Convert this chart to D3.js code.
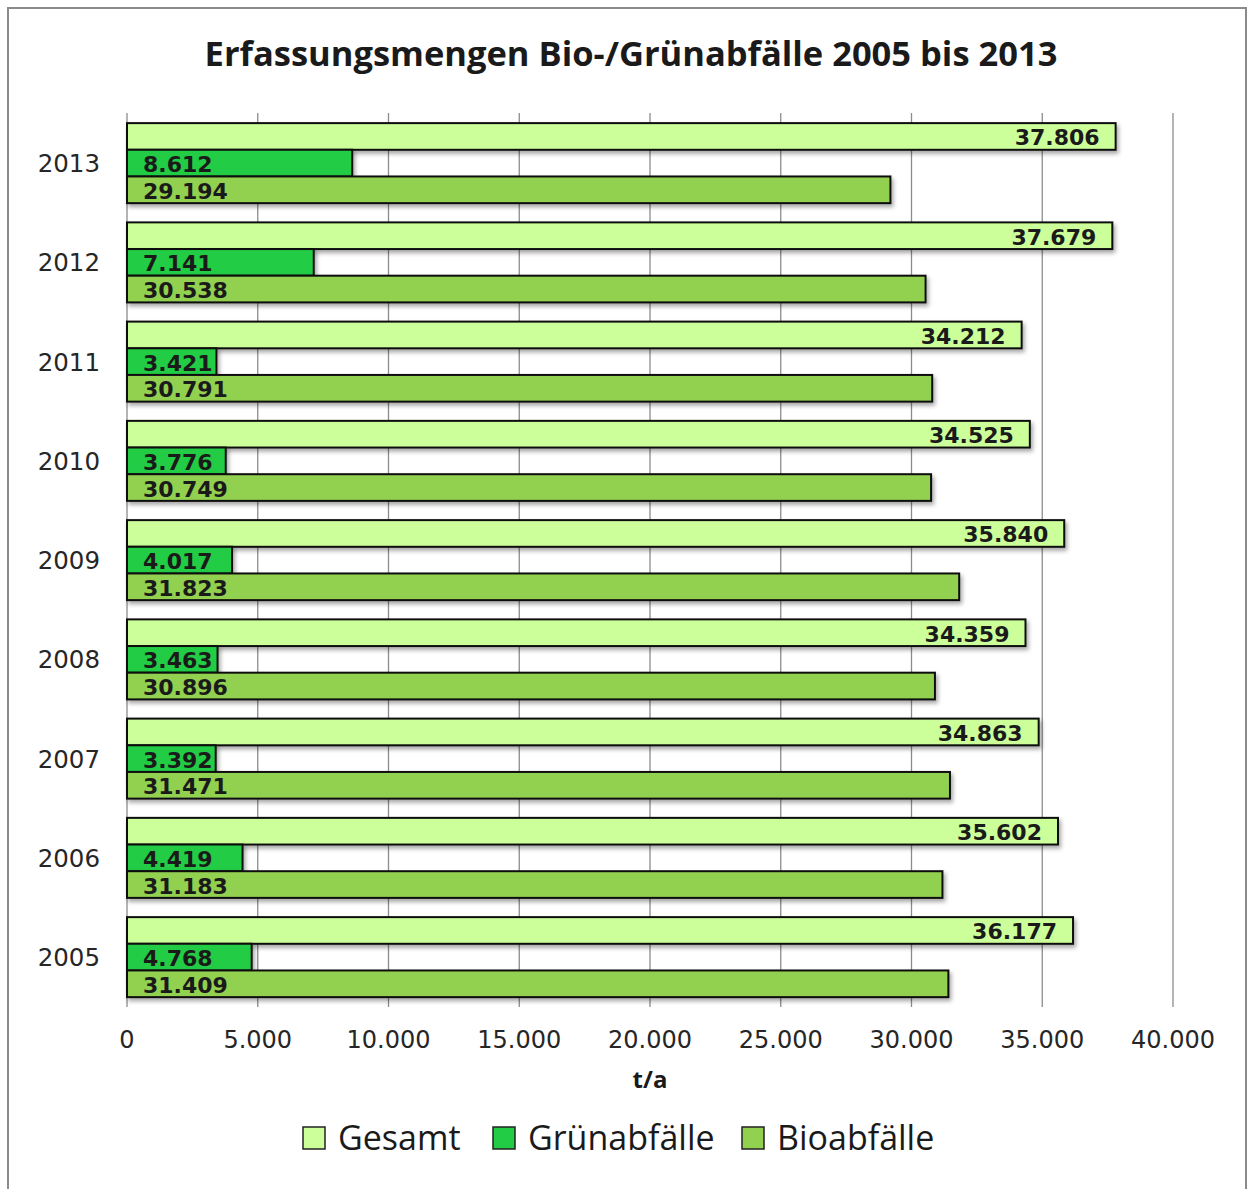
<!DOCTYPE html>
<html>
<head>
  <meta charset="utf-8">
  <script src="https://cdn.jsdelivr.net/npm/d3@7"></script>
  <style type="text/css">
    body { margin: 0; background: #fff; }
    svg text { fill: #1a1a1a; }
  </style>
</head>
<body>
  <div id="chartContainer"></div>

  <script type="text/javascript">
    // data
    var years = ['2013', '2012', '2011', '2010', '2009', '2008', '2007', '2006', '2005'];
    var seriesNames = ['Gesamt', 'Grünabfälle', 'Bioabfälle'];
    var gesamt = [37806, 37679, 34212, 34525, 35840, 34359, 34863, 35602, 36177];
    var gruen  = [8612, 7141, 3421, 3776, 4017, 3463, 3392, 4419, 4768];
    var bio    = [29194, 30538, 30791, 30749, 31823, 30896, 31471, 31183, 31409];
    var xTicks = [0, 5000, 10000, 15000, 20000, 25000, 30000, 35000, 40000];
    var colors = ['#ccff99', '#22cc44', '#92d050'];

    var width = 1248, height = 1189;
    var fmt = function(v) { return d3.format(',')(v).replace(/,/g, '.'); };

    var svg = d3.select('#chartContainer').append('svg')
      .attr('width', width)
      .attr('height', height);

    var defs = svg.append('defs');
    defs.append('filter').attr('id', 'shadow')
      .attr('x', '-5%').attr('y', '-30%').attr('width', '115%').attr('height', '180%')
      .append('feDropShadow')
      .attr('dx', 2).attr('dy', 3).attr('stdDeviation', 2)
      .attr('flood-color', '#000').attr('flood-opacity', 0.35);

    // outer frame
    svg.append('rect')
      .attr('x', 8).attr('y', 8)
      .attr('width', 1238).attr('height', 1200)
      .attr('fill', 'none')
      .attr('stroke', '#8a8a8a')
      .attr('stroke-width', 2);

    svg.append('text')
      .attr('x', 631).attr('y', 66)
      .attr('text-anchor', 'middle')
      .style('font-family', 'Open Sans')
      .style('font-weight', 'bold')
      .style('font-size', '34.5px')
      .text('Erfassungsmengen Bio-/Grünabfälle 2005 bis 2013');

    var x = d3.scaleLinear().domain([0, 40000]).range([127, 1173]);
    var y = d3.scaleBand().domain(years)
      .range([113.5, 1006.75])
      .paddingInner(0.194)
      .paddingOuter(0.097);
    var ySub = d3.scaleBand().domain(seriesNames).range([0, y.bandwidth()]);

    // gridlines
    svg.append('g').selectAll('line')
      .data(xTicks)
      .enter().append('line')
      .attr('x1', function(d) { return x(d); })
      .attr('x2', function(d) { return x(d); })
      .attr('y1', 113)
      .attr('y2', 1007)
      .attr('stroke', '#8c8c8c')
      .attr('stroke-width', 1.3);

    // x tick labels
    svg.append('g').selectAll('text')
      .data(xTicks)
      .enter().append('text')
      .attr('x', function(d) { return x(d); })
      .attr('y', 1048)
      .attr('text-anchor', 'middle')
      .style('font-family', 'DejaVu Sans')
      .style('font-size', '24px')
      .style('fill', '#262626')
      .text(fmt);

    svg.append('text')
      .attr('x', 650).attr('y', 1088)
      .attr('text-anchor', 'middle')
      .style('font-family', 'Open Sans')
      .style('font-weight', 'bold')
      .style('font-size', '24px')
      .text('t/a');

    // year labels
    svg.append('g').selectAll('text')
      .data(years)
      .enter().append('text')
      .attr('x', 100)
      .attr('y', function(d) { return y(d) + y.bandwidth() / 2 + 9; })
      .attr('text-anchor', 'end')
      .style('font-family', 'DejaVu Sans')
      .style('font-size', '24.5px')
      .style('fill', '#262626')
      .text(function(d) { return d; });

    var rows = [];
    years.forEach(function(yr, i) {
      rows.push({ year: yr, series: 'Gesamt', value: gesamt[i], c: 0 });
      rows.push({ year: yr, series: 'Grünabfälle', value: gruen[i], c: 1 });
      rows.push({ year: yr, series: 'Bioabfälle', value: bio[i], c: 2 });
    });

    var bars = svg.append('g');
    bars.selectAll('rect')
      .data(rows)
      .enter().append('rect')
      .attr('x', x(0))
      .attr('y', function(d) { return y(d.year) + ySub(d.series); })
      .attr('width', function(d) { return x(d.value) - x(0); })
      .attr('height', ySub.bandwidth())
      .attr('fill', function(d) { return colors[d.c]; })
      .attr('stroke', '#111')
      .attr('stroke-width', 2)
      .attr('filter', 'url(#shadow)');

    bars.selectAll('text')
      .data(rows)
      .enter().append('text')
      .attr('x', function(d) { return d.c === 0 ? x(d.value) - 16 : x(0) + 16; })
      .attr('y', function(d) { return y(d.year) + ySub(d.series) + ySub.bandwidth() / 2 + 9; })
      .attr('text-anchor', function(d) { return d.c === 0 ? 'end' : 'start'; })
      .style('font-family', 'DejaVu Sans')
      .style('font-weight', 'bold')
      .style('font-size', '22px')
      .text(function(d) { return fmt(d.value); });

    // legend
    var legendX = [303, 493, 742];
    var legend = svg.append('g').selectAll('g')
      .data(seriesNames)
      .enter().append('g')
      .attr('transform', function(d, i) { return 'translate(' + legendX[i] + ',1127)'; });
    legend.append('rect')
      .attr('width', 22).attr('height', 22)
      .attr('fill', function(d, i) { return colors[i]; })
      .attr('stroke', '#222')
      .attr('stroke-width', 1.5);
    legend.append('text')
      .attr('x', 35).attr('y', 23)
      .style('font-family', 'Open Sans')
      .style('font-size', '34px')
      .text(function(d) { return d; });
  </script>
</body>
</html>
